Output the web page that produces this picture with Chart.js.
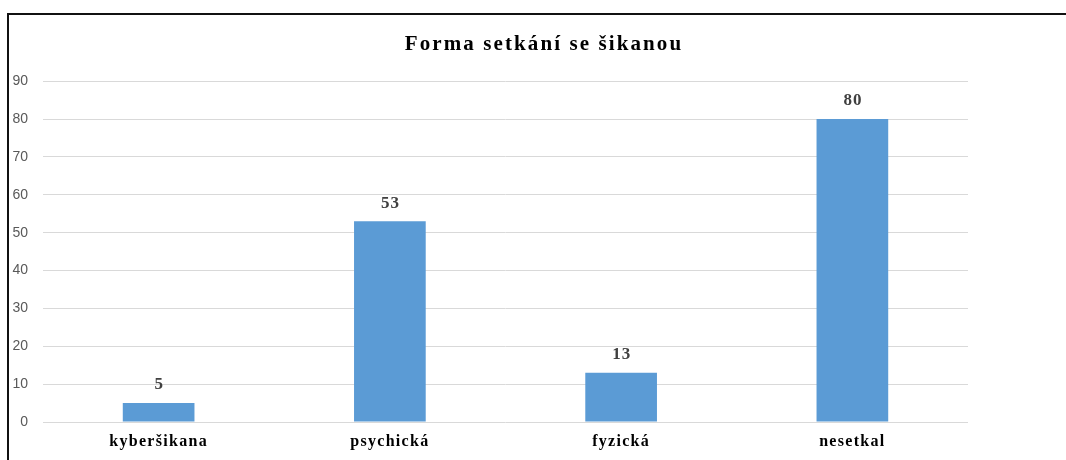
<!DOCTYPE html>
<html>
<head>
<meta charset="utf-8">
<script src="https://cdn.jsdelivr.net/npm/chart.js@4"></script>
<style>
html,body{margin:0;padding:0;background:#fff;overflow:hidden;width:1066px;height:460px;}
#box{position:absolute;left:7px;top:13px;width:1070px;height:447px;border-top:2px solid #111;border-left:2px solid #111;}
#c{display:block;}
</style>
</head>
<body>
<div id="box"><canvas id="c" width="1070" height="445"></canvas></div>
<script>
const categories = ["kyberšikana", "psychická", "fyzická", "nesetkal"];
const values = [5, 53, 13, 80];
const chartTitle = "Forma setkání se šikanou";

const valueLabels = {
  id: 'valueLabels',
  afterDatasetsDraw(chart) {
    const ctx = chart.ctx;
    const meta = chart.getDatasetMeta(0);
    ctx.save();
    ctx.font = 'bold 17px "Liberation Serif"';
    ctx.fillStyle = '#404040';
    ctx.textAlign = 'center';
    ctx.textBaseline = 'middle';
    ctx.letterSpacing = '1px';
    meta.data.forEach((bar, i) => {
      ctx.fillText(String(values[i]), bar.x + 0.5, bar.y - 18);
    });
    ctx.letterSpacing = '0px';
    ctx.restore();
  }
};

const chart = new Chart(document.getElementById('c'), {
  type: 'bar',
  data: {
    labels: categories,
    datasets: [{
      data: values,
      backgroundColor: '#5B9BD5',
      borderWidth: 0,
      barPercentage: 0.31,
      categoryPercentage: 1.0
    }]
  },
  options: {
    responsive: false,
    animation: false,
    devicePixelRatio: 1,
    layout: { padding: 0 },
    plugins: {
      legend: { display: false },
      tooltip: { enabled: false },
      title: {
        display: true,
        text: chartTitle,
        color: '#000',
        font: { family: '"Liberation Serif"', size: 21, weight: 'bold', lineHeight: 1.2 },
        padding: { top: 17, bottom: 24 }
      }
    },
    scales: {
      x: {
        grid: { display: false, drawTicks: false },
        border: { display: false },
        ticks: {
          color: '#000',
          font: { family: '"Liberation Serif"', size: 16, weight: 'bold' },
          padding: 10
        },
        afterFit(s) { s.height = 38; }
      },
      y: {
        min: 0, max: 90,
        ticks: {
          stepSize: 10,
          color: '#595959',
          font: { family: '"Liberation Sans"', size: 14 },
          padding: 15
        },
        grid: { color: '#d9d9d9', lineWidth: 1, drawTicks: false },
        border: { display: false },
        afterFit(s) { s.width = 34; }
      },
      yRight: {
        position: 'right',
        min: 0, max: 90,
        ticks: { display: false },
        grid: { display: false, drawTicks: false },
        border: { display: false },
        afterFit(s) { s.width = 111; }
      }
    }
  },
  plugins: [valueLabels]
});

function withSpacing(obj, name, sp) {
  const orig = obj[name];
  obj[name] = function (...args) {
    const ctx = this.ctx;
    ctx.letterSpacing = sp;
    const r = orig.apply(this, args);
    ctx.letterSpacing = '0px';
    return r;
  };
}
withSpacing(chart.scales.x, 'drawLabels', '1.3px');
if (chart.titleBlock) withSpacing(chart.titleBlock, 'draw', '2.1px');
chart.update();
</script>
</body>
</html>
